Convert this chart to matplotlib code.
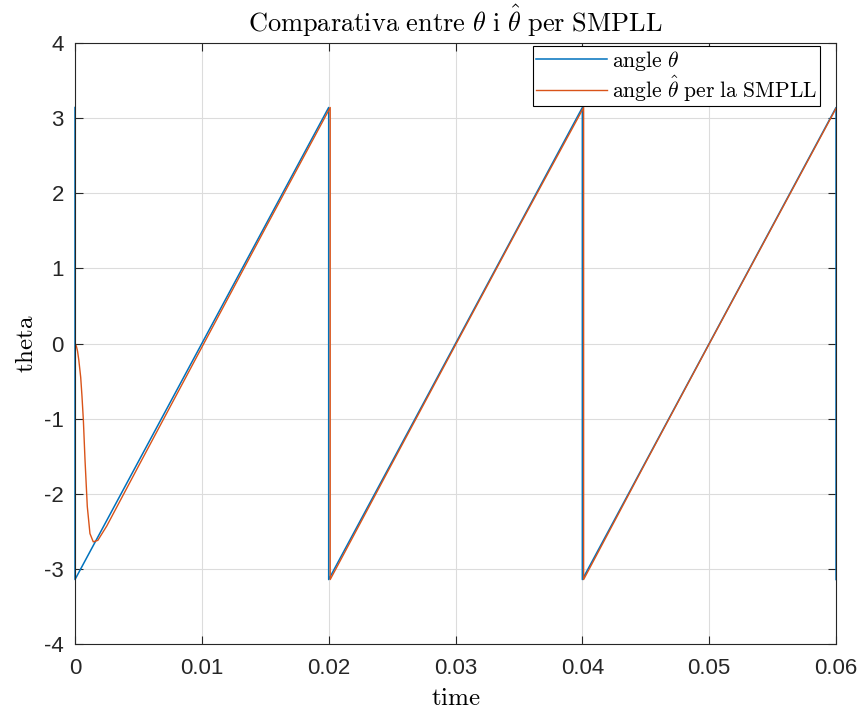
import matplotlib
matplotlib.use('Agg')
import matplotlib.pyplot as plt

plt.rcParams['mathtext.fontset'] = 'cm'
plt.rcParams['font.family'] = 'Liberation Sans'
plt.rcParams['axes.unicode_minus'] = False

# angle theta (sawtooth, wrapped to [-pi, pi])
t_theta = [0.0, 0.0, 0.02, 0.02, 0.04, 0.04, 0.06, 0.06]
theta = [3.1416, -3.1416, 3.1416, -3.1416, 3.1416, -3.1416, 3.1416, -3.1416]

# estimated angle from the SMPLL
t_hat = [0.0, 0.00010, 0.00020, 0.00030, 0.00045, 0.00055, 0.00066, 0.00079,
         0.00097, 0.00118, 0.00144, 0.0018, 0.0025, 0.005, 0.010, 0.015,
         0.02012, 0.02012, 0.025, 0.030, 0.035, 0.04010, 0.04010, 0.045,
         0.050, 0.060]
theta_hat = [0.0, -0.03, -0.10, -0.22, -0.45, -0.70, -1.02, -1.55,
             -2.17, -2.53, -2.64, -2.62, -2.43, -1.634, -0.050, 1.533,
             3.1416, -3.1416, -1.596, -0.019, 1.555, 3.1416, -3.1416, -1.581,
             -0.006, 3.13]

fig = plt.figure(figsize=(8.61, 7.11), dpi=100)
ax = fig.add_axes([0.0871, 0.0942, 0.8839, 0.8453])

ax.plot(t_theta, theta, color='#0072BD', lw=1.1, clip_on=False,
        label=r'$\mathrm{angle}\ \theta$')
ax.plot(t_hat, theta_hat, color='#D95319', lw=1.0,
        label=r'$\mathrm{angle}\ \hat{\theta}\ \mathrm{per\ la\ SMPLL}$')

ax.set_xlim(0, 0.06)
ax.set_ylim(-4, 4)
ax.set_xticks([0, 0.01, 0.02, 0.03, 0.04, 0.05, 0.06])
ax.set_xticklabels(['0', '0.01', '0.02', '0.03', '0.04', '0.05', '0.06'])
ax.set_yticks(range(-4, 5))
ax.tick_params(direction='in', top=True, right=True, labelsize=16,
               length=6, width=0.8, color='#262626', labelcolor='#262626')
ax.tick_params(axis='x', pad=10)
ax.tick_params(axis='y', pad=8)
for s in ax.spines.values():
    s.set_color('#262626')
    s.set_linewidth(0.8)
ax.grid(True, color='#dcdcdc', lw=0.8)
ax.set_axisbelow(True)

ax.set_title(r'$\mathrm{Comparativa\ entre\ }\theta\mathrm{\ i\ }\hat{\theta}\mathrm{\ per\ SMPLL}$',
             fontsize=19, pad=8)
ax.set_xlabel(r'$\mathrm{time}$', fontsize=18, labelpad=5)
ax.set_ylabel(r'$\mathrm{theta}$', fontsize=18, labelpad=4)

leg = ax.legend(loc='upper right', bbox_to_anchor=(0.979, 0.995), borderaxespad=0,
                fontsize=15.5, handlelength=3.3, handletextpad=0.25,
                fancybox=False, edgecolor='black', framealpha=1,
                borderpad=0.12, labelspacing=0.05)
leg.get_frame().set_linewidth(0.8)

fig.savefig('out.png', dpi=100)
